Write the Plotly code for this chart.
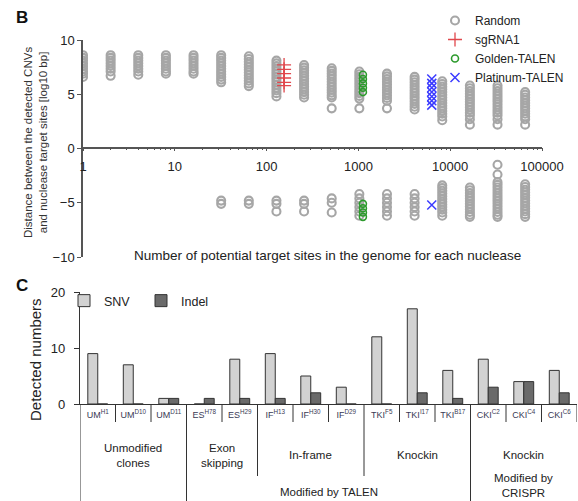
import plotly.graph_objects as go

W, H = 578, 501
def px(x): return x / W
def py(y): return 1 - y / H

# ---------------- Panel B data ----------------
random_x = [1, 2, 4, 8, 16, 32, 64, 128, 256, 512, 1024, 2048, 4096, 8192, 16384, 32768, 65536]
random_pos = [
    [8.6, 8.35, 8.1, 7.85, 7.6, 7.35, 7.1, 6.9, 6.6],
    [8.6, 8.35, 8.1, 7.85, 7.6, 7.35, 7.1, 6.7],
    [8.6, 8.35, 8.1, 7.85, 7.6, 7.35, 7.1, 6.8],
    [8.6, 8.35, 8.1, 7.85, 7.6, 7.35, 7.1, 6.9],
    [8.6, 8.35, 8.1, 7.85, 7.6, 7.35, 7.1, 6.9],
    [8.6, 8.35, 8.1, 7.85, 7.6, 7.35, 7.1, 6.85, 6.6, 6.35, 6.1],
    [8.5, 8.25, 8.0, 7.75, 7.5, 7.25, 7.0, 6.75, 6.5, 6.25, 6.0, 5.75],
    [8.1, 7.85, 7.6, 7.35, 7.1, 6.85, 6.6, 6.35, 6.1, 5.85, 5.6, 5.35, 5.1, 4.8],
    [7.7, 7.45, 7.2, 6.95, 6.7, 6.45, 6.2, 5.95, 5.7, 5.45, 5.2, 4.95, 4.7],
    [7.4, 7.15, 6.9, 6.65, 6.4, 6.15, 5.9, 5.65, 5.4, 5.15, 4.9, 4.7, 3.7],
    [7.1, 6.85, 6.6, 6.35, 6.1, 5.85, 5.6, 5.35, 5.1, 4.85, 4.6, 3.7],
    [6.9, 6.65, 6.4, 6.15, 5.9, 5.65, 5.4, 5.15, 4.9, 4.65, 4.4, 3.7],
    [6.6, 6.35, 6.1, 5.85, 5.6, 5.35, 5.1, 4.85, 4.6, 4.35, 4.1, 3.85, 3.6],
    [6.2, 5.95, 5.7, 5.45, 5.2, 4.95, 4.7, 4.45, 4.2, 3.95, 3.7, 3.45, 3.2, 2.95, 2.6],
    [5.8, 5.55, 5.3, 5.05, 4.8, 4.55, 4.3, 4.05, 3.8, 3.55, 3.3, 3.05, 2.7, 2.2],
    [5.8, 5.55, 5.3, 5.05, 4.8, 4.55, 4.3, 4.05, 3.8, 3.55, 3.3, 3.05, 2.7, 2.2],
    [5.2, 4.95, 4.7, 4.45, 4.2, 3.95, 3.7, 3.45, 3.2, 2.95, 2.7, 2.2],
]
random_neg = [
    [], [], [], [], [],
    [-4.8, -5.1],
    [-4.8, -5.1],
    [-4.8, -5.1, -5.8],
    [-4.8, -5.1, -5.8],
    [-4.6, -5.0, -5.9],
    [-4.2, -4.6, -5.0, -5.4, -5.8, -6.2],
    [-4.2, -4.6, -5.0, -5.4, -5.8, -6.2],
    [-4.2, -4.6, -5.0, -5.4, -5.8, -6.2],
    [-3.4, -3.65, -3.9, -4.15, -4.4, -4.65, -4.9, -5.15, -5.4, -5.65, -5.9, -6.2],
    [-3.6, -3.85, -4.1, -4.35, -4.6, -4.85, -5.1, -5.35, -5.6, -5.85, -6.1, -6.3],
    [-1.5, -2.4, -3.1, -3.35, -3.6, -3.85, -4.1, -4.35, -4.6, -4.85, -5.1, -5.35, -5.6, -5.85, -6.1, -6.3],
    [-3.3, -3.55, -3.8, -4.05, -4.3, -4.55, -4.8, -5.05, -5.3, -5.55, -5.8, -6.05, -6.3],
]
sgrna1_x = 155
sgrna1_y = [7.7, 7.3, 6.9, 6.5, 6.1, 5.8]
golden_x = 1120
golden_y = [6.8, 6.4, 6.0, 5.6, 5.2, -5.1, -5.5, -5.9, -6.3]
platinum_x = 6300
platinum_y = [6.4, 6.0, 5.6, 5.2, 4.8, 4.4, 4.0, -5.2]

# ---------------- Panel C data ----------------
clones = ["UM<sup>H1</sup>", "UM<sup>D10</sup>", "UM<sup>D11</sup>", "ES<sup>H78</sup>", "ES<sup>H29</sup>",
          "IF<sup>H13</sup>", "IF<sup>H30</sup>", "IF<sup>D29</sup>", "TKI<sup>F5</sup>", "TKI<sup>I17</sup>",
          "TKI<sup>B17</sup>", "CKI<sup>C2</sup>", "CKI<sup>C4</sup>", "CKI<sup>C6</sup>"]
snv = [9, 7, 1, 0, 8, 9, 5, 3, 12, 17, 6, 8, 4, 6]
indel = [0, 0, 1, 1, 1, 1, 2, 0, 0, 2, 1, 3, 4, 2]
groups = ["Unmodified<br>clones", "Exon<br>skipping", "In-frame", "Knockin", "Knockin"]
group_centers = [1, 3.5, 6, 9, 12]
nucleases = ["Modified by TALEN", "Modified by<br>CRISPR"]
nuclease_centers = [6.5, 12]

FONT = "Liberation Sans, Arial, sans-serif"

fig = go.Figure()

rx, ry = [], []
for xv, ys in zip(random_x, random_pos):
    for v in ys:
        rx.append(xv); ry.append(v)
for xv, ys in zip(random_x, random_neg):
    for v in ys:
        rx.append(xv); ry.append(v)

fig.add_trace(go.Scatter(x=rx, y=ry, mode="markers", name="Random", xaxis="x", yaxis="y",
                         marker=dict(symbol="circle-open", size=8, color="#a6a6a6", line=dict(width=2.1)),
                         legend="legend"))
fig.add_trace(go.Scatter(x=[sgrna1_x] * len(sgrna1_y), y=sgrna1_y, mode="markers", name="sgRNA1",
                         xaxis="x", yaxis="y",
                         marker=dict(symbol="cross-thin-open", size=10, color="#e0474c", line=dict(width=1.3)),
                         legend="legend"))
fig.add_trace(go.Scatter(x=[golden_x] * len(golden_y), y=golden_y, mode="markers", name="Golden-TALEN",
                         xaxis="x", yaxis="y",
                         marker=dict(symbol="circle-open", size=7, color="#2c9a2c", line=dict(width=1.6)),
                         legend="legend"))
fig.add_trace(go.Scatter(x=[platinum_x] * len(platinum_y), y=platinum_y, mode="markers", name="Platinum-TALEN",
                         xaxis="x", yaxis="y",
                         marker=dict(symbol="x-thin-open", size=9, color="#3b3bff", line=dict(width=1.5)),
                         legend="legend"))

idx = list(range(len(clones)))
fig.add_trace(go.Bar(x=idx, y=snv, name="SNV", xaxis="x2", yaxis="y2", legend="legend2",
                     marker=dict(color="#d2d2d2", line=dict(color="#333333", width=1))))
fig.add_trace(go.Bar(x=idx, y=indel, name="Indel", xaxis="x2", yaxis="y2", legend="legend2",
                     marker=dict(color="#6a6a6a", line=dict(color="#333333", width=1))))

minor_vals = []
for d in [1, 10, 100, 1000, 10000]:
    for k in range(2, 10):
        minor_vals.append(d * k)

axcol = "#555555"
fig.update_layout(
    width=W, height=H, margin=dict(l=0, r=0, t=0, b=0, autoexpand=False),
    paper_bgcolor="white", plot_bgcolor="white",
    font=dict(family=FONT, color="#222222"),
    barmode="group", bargap=0.44, bargroupgap=0.0,
    xaxis=dict(type="log", range=[0, 5], domain=[px(83), px(542)], anchor="free", position=py(147.5),
               tickmode="array", tickvals=[1, 10, 100, 1000, 10000, 100000],
               ticktext=["1", "10", "100", "1000", "10000", "100000"],
               ticks="outside", ticklen=3, tickcolor=axcol, showline=True, linecolor=axcol, linewidth=1.5,
               showgrid=False, zeroline=False, tickfont=dict(size=13, color="#222"), ticklabelstandoff=4,
               minor=dict(tickmode="array", tickvals=minor_vals, ticks="outside", ticklen=2,
                          tickcolor=axcol, showgrid=False)),
    yaxis=dict(range=[-10, 10], domain=[py(257), py(40)], anchor="x", tickvals=[-10, -5, 0, 5, 10],
               ticks="outside", ticklen=4, tickcolor=axcol, showline=True, linecolor=axcol, linewidth=1.5,
               showgrid=False, zeroline=False, tickfont=dict(size=13, color="#222")),
    xaxis2=dict(domain=[px(80), px(577)], anchor="y2", range=[-0.5, 13.5], tickmode="array",
                tickvals=idx, ticktext=clones, ticks="", showline=True, linecolor="#333", linewidth=1.2,
                showgrid=False, zeroline=False, tickfont=dict(size=9, color="#3a3a55"), tickangle=0,
                ticklabelstandoff=2),
    yaxis2=dict(range=[0, 20], domain=[py(404), py(292)], anchor="x2", tickvals=[0, 10, 20],
                ticks="outside", ticklen=5, tickcolor="#333", showline=True, linecolor="#333", linewidth=1.2,
                showgrid=False, zeroline=False, tickfont=dict(size=13, color="#222"), ticklabelstandoff=6),
    legend=dict(x=px(435), y=py(6), xanchor="left", yanchor="top", font=dict(size=12, color="#222"),
                bgcolor="rgba(0,0,0,0)", itemwidth=30, tracegroupgap=0),
    legend2=dict(x=px(64), y=py(286), xanchor="left", yanchor="top", orientation="h",
                 font=dict(size=12.5, color="#222"), bgcolor="rgba(0,0,0,0)", itemwidth=30,
                 entrywidth=32, entrywidthmode="pixels"),
)

ann = []
ann.append(dict(text="<b>B</b>", x=px(14), y=py(17), xref="paper", yref="paper", showarrow=False,
                xanchor="left", yanchor="middle", font=dict(size=17, color="#111")))
ann.append(dict(text="<b>C</b>", x=px(14), y=py(285), xref="paper", yref="paper", showarrow=False,
                xanchor="left", yanchor="middle", font=dict(size=17, color="#111")))
ann.append(dict(text="Distance between the detected CNVs<br>and nuclease target sites [log10 bp]",
                x=px(35), y=py(143), xref="paper", yref="paper", showarrow=False, textangle=-90,
                xanchor="center", yanchor="middle", font=dict(size=11.5, color="#333")))
ann.append(dict(text="Number of potential target sites in the genome for each nuclease",
                x=px(327), y=py(255), xref="paper", yref="paper", showarrow=False,
                xanchor="center", yanchor="middle", font=dict(size=13.5, color="#222")))
ann.append(dict(text="Detected numbers", x=px(35), y=py(360), xref="paper", yref="paper",
                showarrow=False, textangle=-90, xanchor="center", yanchor="middle",
                font=dict(size=15, color="#222")))
for g, c in zip(groups, group_centers):
    ann.append(dict(text=g, x=c, y=py(455), xref="x2", yref="paper", showarrow=False,
                    xanchor="center", yanchor="middle", font=dict(size=11.5, color="#222")))
for n, c in zip(nucleases, nuclease_centers):
    ann.append(dict(text=n, x=c, y=py(492) if "<br>" not in n else py(485), xref="x2", yref="paper",
                    showarrow=False, xanchor="center", yanchor="middle", font=dict(size=11.5, color="#222")))
fig.update_layout(annotations=ann)

shapes = []
for i in range(len(clones) + 1):
    b = i - 0.5
    if b in (-0.5, 2.5, 10.5):
        y1 = 0
    elif b in (4.5, 7.5):
        y1 = py(476)
    else:
        y1 = py(422)
    shapes.append(dict(type="line", xref="x2", yref="paper", x0=b, x1=b, y0=py(404), y1=y1,
                       line=dict(color="#333", width=1)))
fig.update_layout(shapes=shapes)

fig.write_html("out.html", config={"displayModeBar": False},
               post_script="document.body.style.margin='0';document.body.style.overflow='hidden';")
